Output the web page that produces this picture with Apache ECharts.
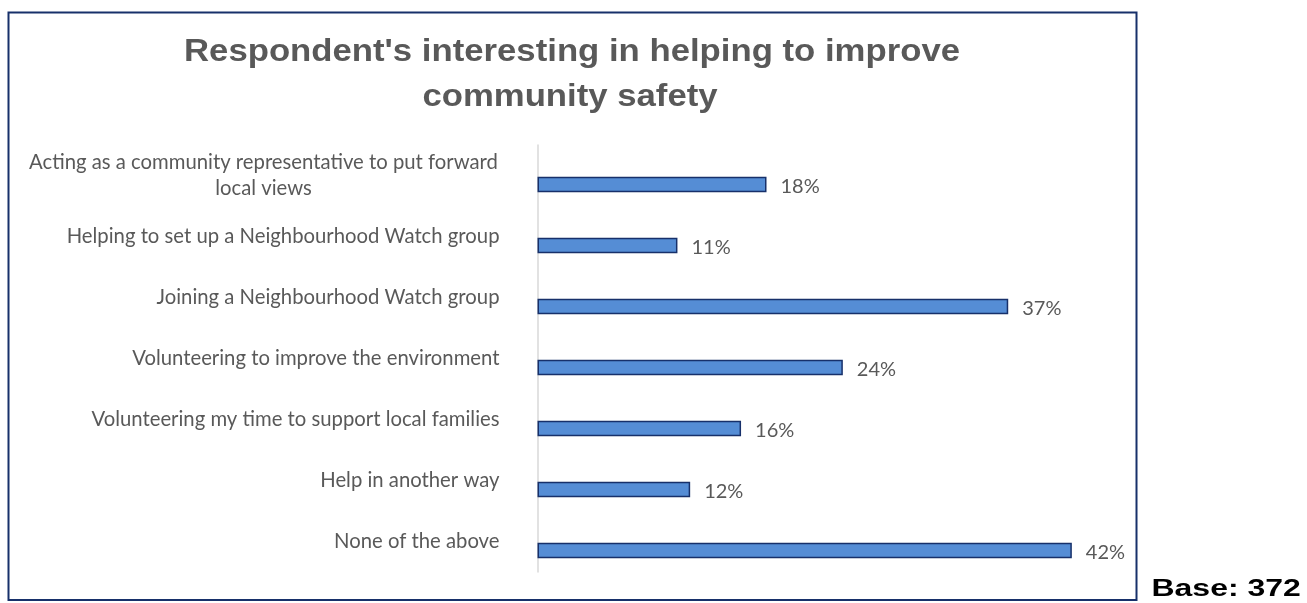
<!DOCTYPE html>
<html>
<head>
<meta charset="utf-8">
<script src="https://cdn.jsdelivr.net/npm/echarts@6/dist/echarts.min.js"></script>
<style>
  html, body { margin: 0; padding: 0; background: #ffffff; }
  #chart { width: 1307px; height: 603px; }
</style>
</head>
<body>
<div id="chart"></div>
<script>
// Survey answers: interest in helping to improve community safety
const categories = [
  'Acting as a community representative to put forward\nlocal views',
  'Helping to set up a Neighbourhood Watch group',
  'Joining a Neighbourhood Watch group',
  'Volunteering to improve the environment',
  'Volunteering my time to support local families',
  'Help in another way',
  'None of the above'
];
const shares = [18, 11, 37, 24, 16, 12, 42];
const titleLines = ["Respondent's interesting in helping to improve", 'community safety'];
const baseNote = 'Base: 372';

const labelFont = 'Lato, "Open Sans", sans-serif';
const headFont = '"Liberation Sans", Arial, sans-serif';

// two-line category names are centred line by line, like a wrapped text box
const axisData = categories.map(function (name) {
  if (name.indexOf('\n') < 0) return name;
  return { value: name, textStyle: { align: 'center', padding: [0, 472, 0, 0] } };
});

const chart = echarts.init(document.getElementById('chart'));

chart.setOption({
  animation: false,
  backgroundColor: '#ffffff',
  grid: { left: 537.5, right: 197, top: 145, bottom: 31, containLabel: false },
  xAxis: {
    type: 'value', min: 0, max: 45,
    show: false, splitLine: { show: false }
  },
  yAxis: {
    type: 'category',
    inverse: true,
    data: axisData,
    axisTick: { show: false },
    axisLine: { show: true, lineStyle: { color: '#d9d9d9', width: 1.5 } },
    axisLabel: {
      margin: 38,
      color: '#595959',
      fontFamily: labelFont,
      fontSize: 20.3,
      lineHeight: 26,
      align: 'right'
    }
  },
  series: [
    {
      // empty slot that pushes the visible bar below the category centre
      type: 'bar',
      data: shares.map(function () { return 0; }),
      barWidth: 15.5,
      barGap: '16%',
      silent: true,
      itemStyle: { color: 'rgba(0,0,0,0)', borderWidth: 0 },
      label: { show: false }
    },
    {
      type: 'bar',
      name: 'Share',
      data: shares,
      barWidth: 15.5,
      barGap: '16%',
      itemStyle: { color: '#558dd5', borderColor: '#17306a', borderWidth: 1.5 },
      label: {
        show: true,
        position: 'right',
        distance: 14,
        offset: [0, 2],
        color: '#595959',
        fontFamily: labelFont,
        fontSize: 20,
        formatter: function (p) { return p.value + '%'; }
      }
    }
  ],
  graphic: [
    {
      type: 'rect',
      shape: { x: 8.5, y: 12.5, width: 1128, height: 587.5 },
      style: { fill: 'none', stroke: '#17306a', lineWidth: 2 },
      silent: true, z: 10
    },
    {
      type: 'text', x: 572, y: 52, scaleX: 1.12,
      style: { text: titleLines[0], font: 'bold 31px ' + headFont, fill: '#595959', align: 'center', verticalAlign: 'middle' }
    },
    {
      type: 'text', x: 570, y: 97, scaleX: 1.12,
      style: { text: titleLines[1], font: 'bold 31px ' + headFont, fill: '#595959', align: 'center', verticalAlign: 'middle' }
    },
    {
      type: 'text', x: 1151.5, y: 590, scaleX: 1.36,
      style: { text: baseNote, font: 'bold 23.5px ' + headFont, fill: '#000000', align: 'left', verticalAlign: 'middle' }
    }
  ]
});
</script>
</body>
</html>
